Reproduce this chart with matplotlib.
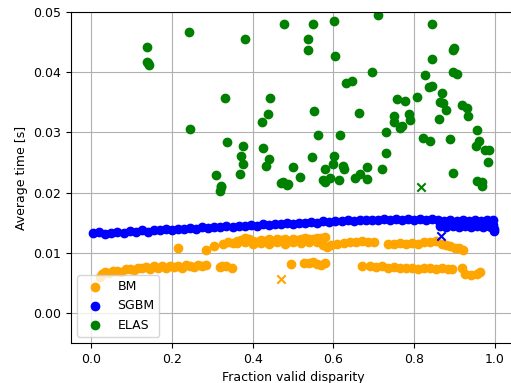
import matplotlib
matplotlib.use("Agg")
import matplotlib.pyplot as plt

plt.rcParams["font.size"] = 9

# BM (orange)
bm_x = [0.021, 0.027, 0.035, 0.045, 0.055, 0.065, 0.075, 0.085, 0.095, 0.105,
        0.115, 0.125, 0.135, 0.145, 0.155, 0.165, 0.175, 0.185, 0.195, 0.205,
        0.215, 0.225, 0.235, 0.245, 0.255, 0.265, 0.275, 0.285, 0.318, 0.325,
        0.335, 0.348,
        0.215, 0.285, 0.303, 0.327, 0.339, 0.35, 0.36, 0.37, 0.38, 0.39, 0.40,
        0.41, 0.42, 0.43, 0.44, 0.45, 0.46, 0.47, 0.48, 0.49, 0.50, 0.51, 0.52,
        0.53, 0.54, 0.55, 0.56, 0.57, 0.58,
        0.36, 0.38, 0.40, 0.42, 0.44, 0.46, 0.48, 0.50, 0.52, 0.54, 0.56,
        0.575, 0.583, 0.595, 0.61, 0.625, 0.64, 0.655, 0.67, 0.685, 0.70,
        0.735, 0.75, 0.765, 0.78, 0.795, 0.81, 0.825, 0.84, 0.855,
        0.87, 0.88, 0.89, 0.90, 0.91, 0.92,
        0.496, 0.527, 0.54, 0.55, 0.56, 0.57, 0.58,
        0.672, 0.69, 0.705, 0.72, 0.735, 0.75, 0.765, 0.78, 0.795, 0.81, 0.825,
        0.84, 0.855, 0.87, 0.885, 0.893, 0.918, 0.926, 0.94, 0.955, 0.963]
bm_y = [0.0060, 0.0064, 0.0068, 0.0066, 0.0069, 0.0070, 0.0068, 0.0072, 0.0073, 0.0071,
        0.0075, 0.0074, 0.0076, 0.0073, 0.0077, 0.0075, 0.0078, 0.0074, 0.0077, 0.0076,
        0.0078, 0.0075, 0.0079, 0.0077, 0.0076, 0.0079, 0.0077, 0.0080, 0.0076, 0.0078,
        0.0077, 0.0074,
        0.0107, 0.0105, 0.0111, 0.0115, 0.0118, 0.0116, 0.0119, 0.0121, 0.0124, 0.0122, 0.0120,
        0.0118, 0.0121, 0.0119, 0.0122, 0.0120, 0.0123, 0.0121, 0.0122, 0.0120, 0.0123, 0.0121, 0.0122,
        0.0124, 0.0122, 0.0123, 0.0125, 0.0124, 0.0126,
        0.0116, 0.0117, 0.0115, 0.0116, 0.0114, 0.0117, 0.0115, 0.0118, 0.0116, 0.0117, 0.0118,
        0.0112, 0.0110, 0.0113, 0.0115, 0.0116, 0.0117, 0.0118, 0.0119, 0.0118, 0.0117,
        0.0114, 0.0115, 0.0116, 0.0115, 0.0116, 0.0115, 0.0117, 0.0118, 0.0120,
        0.0115, 0.0113, 0.0111, 0.0108, 0.0107, 0.0105,
        0.0081, 0.0083, 0.0082, 0.0084, 0.0081, 0.0080, 0.0083,
        0.0077, 0.0078, 0.0076, 0.0077, 0.0075, 0.0076, 0.0074, 0.0075, 0.0074, 0.0073, 0.0074,
        0.0075, 0.0073, 0.0074, 0.0073, 0.0072, 0.0074, 0.0064, 0.0063, 0.0064, 0.0068]

# SGBM (blue)
sgbm_x = [0.005, 0.02, 0.035, 0.05, 0.065, 0.08, 0.095, 0.11, 0.125, 0.14,
          0.155, 0.17, 0.185, 0.2, 0.215, 0.23, 0.245, 0.26, 0.275, 0.29,
          0.305, 0.32, 0.335, 0.35, 0.365, 0.38, 0.395, 0.41, 0.425, 0.44,
          0.455, 0.47, 0.485, 0.5, 0.515, 0.53, 0.545, 0.56, 0.575, 0.59,
          0.605, 0.62, 0.635, 0.65, 0.665, 0.68, 0.695, 0.71, 0.725, 0.74,
          0.755, 0.77, 0.785, 0.8, 0.815, 0.83, 0.845, 0.86, 0.875, 0.89,
          0.905, 0.92, 0.935, 0.95, 0.965, 0.98, 0.995,
          0.865, 0.88, 0.895, 0.91, 0.925, 0.94, 0.955, 0.97, 0.985, 0.995,
          0.998, 0.997, 0.99]
sgbm_y = [0.0132, 0.0134, 0.0131, 0.0133, 0.0135, 0.0133, 0.0136, 0.0134, 0.0137, 0.0135,
          0.0138, 0.0137, 0.0139, 0.0138, 0.0140, 0.0139, 0.0141, 0.0140, 0.0142, 0.0141,
          0.0143, 0.0142, 0.0144, 0.0143, 0.0145, 0.0144, 0.0146, 0.0145, 0.0147, 0.0146,
          0.0148, 0.0147, 0.0149, 0.0148, 0.0150, 0.0149, 0.0151, 0.0150, 0.0152, 0.0151,
          0.0153, 0.0152, 0.0154, 0.0153, 0.0155, 0.0154, 0.0155, 0.0154, 0.0156, 0.0155,
          0.0156, 0.0155, 0.0156, 0.0155, 0.0156, 0.0155, 0.0156, 0.0154, 0.0153, 0.0154,
          0.0153, 0.0154, 0.0153, 0.0154, 0.0153, 0.0154, 0.0155,
          0.0145, 0.0143, 0.0145, 0.0143, 0.0145, 0.0143, 0.0145, 0.0143, 0.0145, 0.0146,
          0.0140, 0.0136, 0.0142]

# ELAS (green)
elas_x = [0.138, 0.138, 0.143, 0.141, 0.242, 0.382, 0.477, 0.332, 0.443, 0.439,
          0.423, 0.244, 0.337, 0.375, 0.426, 0.370, 0.375, 0.440, 0.433, 0.310,
          0.368, 0.321, 0.474, 0.484, 0.321, 0.318, 0.469,
          0.550, 0.601, 0.710, 0.845, 0.538, 0.538, 0.604, 0.899, 0.896, 0.844,
          0.695, 0.631, 0.645, 0.828, 0.896, 0.906, 0.836, 0.844, 0.868, 0.808,
          0.757, 0.777, 0.864, 0.871, 0.878, 0.919, 0.932, 0.934, 0.552, 0.663,
          0.861, 0.750, 0.749, 0.786, 0.789, 0.769, 0.765, 0.955, 0.730, 0.562,
          0.617, 0.821, 0.838, 0.888, 0.961, 0.953, 0.975, 0.985, 0.983, 0.730,
          0.548, 0.601, 0.598, 0.501, 0.579, 0.624, 0.627, 0.684, 0.721, 0.517,
          0.573, 0.579, 0.591, 0.615, 0.653, 0.666, 0.684, 0.488, 0.897,
          0.955, 0.968, 0.969]
elas_y = [0.0443, 0.0418, 0.0413, 0.0415, 0.0467, 0.0455, 0.0480, 0.0357, 0.0358, 0.0331,
          0.0317, 0.0306, 0.0284, 0.0278, 0.0274, 0.0261, 0.0248, 0.0255, 0.0245, 0.0230,
          0.0231, 0.0211, 0.0217, 0.0213, 0.0209, 0.0202, 0.0216,
          0.0481, 0.0486, 0.0495, 0.0480, 0.0455, 0.0437, 0.0428, 0.0441, 0.0438, 0.0422,
          0.0400, 0.0383, 0.0386, 0.0395, 0.0400, 0.0398, 0.0376, 0.0377, 0.0366, 0.0359,
          0.0355, 0.0353, 0.0350, 0.0349, 0.0338, 0.0346, 0.0340, 0.0328, 0.0335, 0.0333,
          0.0323, 0.0327, 0.0318, 0.0330, 0.0320, 0.0311, 0.0307, 0.0304, 0.0301, 0.0295,
          0.0296, 0.0291, 0.0286, 0.0289, 0.0285, 0.0278, 0.0271, 0.0271, 0.0250, 0.0266,
          0.0259, 0.0260, 0.0247, 0.0243, 0.0240, 0.0245, 0.0239, 0.0243, 0.0240, 0.0226,
          0.0221, 0.0217, 0.0225, 0.0221, 0.0225, 0.0231, 0.0223, 0.0214, 0.0232,
          0.0220, 0.0217, 0.0211]

# average markers (x)
mean_x = {"BM": 0.470, "SGBM": 0.866, "ELAS": 0.817}
mean_y = {"BM": 0.0056, "SGBM": 0.0128, "ELAS": 0.0209}

fig = plt.figure(figsize=(5.11, 3.83), dpi=100)
ax = fig.add_axes([0.139, 0.105, 0.869, 0.863])
ax.grid(True)
ax.set_axisbelow(True)

ax.scatter(bm_x, bm_y, color="orange", label="BM")
ax.scatter(sgbm_x, sgbm_y, color="blue", label="SGBM")
ax.scatter(elas_x, elas_y, color="green", label="ELAS")
ax.scatter([mean_x["BM"]], [mean_y["BM"]], color="orange", marker="x")
ax.scatter([mean_x["SGBM"]], [mean_y["SGBM"]], color="blue", marker="x")
ax.scatter([mean_x["ELAS"]], [mean_y["ELAS"]], color="green", marker="x")

ax.set_xlim(-0.05, 1.05)
ax.set_ylim(-0.005, 0.05)
ax.set_xlabel("Fraction valid disparity")
ax.set_ylabel("Average time [s]")
ax.legend(loc="lower left")

plt.savefig("out.png", dpi=100)
